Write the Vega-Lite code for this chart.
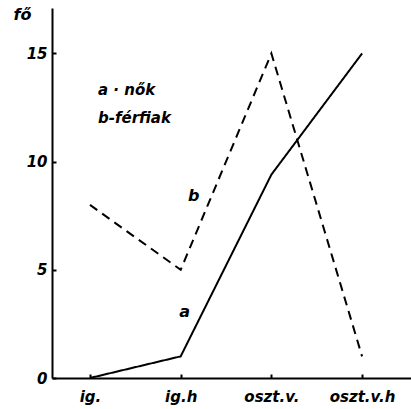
{
  "$schema": "https://vega.github.io/schema/vega-lite/v6.json",
  "width": 359,
  "height": 370,
  "autosize": "none",
  "padding": {"left": 52, "top": 8, "right": 0, "bottom": 31},
  "background": "white",
  "config": {"view": {"stroke": null}, "font": "DejaVu Sans"},
  "datasets": {
    "lines": [
      {"cat": "ig.", "series": "a", "v": 0},
      {"cat": "ig.h", "series": "a", "v": 1},
      {"cat": "oszt.v.", "series": "a", "v": 9.4},
      {"cat": "oszt.v.h", "series": "a", "v": 15},
      {"cat": "ig.", "series": "b", "v": 8},
      {"cat": "ig.h", "series": "b", "v": 5},
      {"cat": "oszt.v.", "series": "b", "v": 15},
      {"cat": "oszt.v.h", "series": "b", "v": 1}
    ],
    "notes": [
      {"cat": "ig.h", "v": 3.05, "label": "a", "kind": "tag_a"},
      {"cat": "ig.h", "v": 8.4, "label": "b", "kind": "tag_b"},
      {"cat": "ig.", "v": 13.3, "label": "a · nők", "kind": "legend"},
      {"cat": "ig.", "v": 12.0, "label": "b-férfiak", "kind": "legend"}
    ]
  },
  "encoding": {
    "x": {
      "field": "cat",
      "type": "ordinal",
      "sort": null,
      "scale": {"type": "point", "domain": ["ig.", "ig.h", "oszt.v.", "oszt.v.h"], "padding": 0.479, "align": 0.437},
      "axis": {
        "title": null,
        "grid": false,
        "domainColor": "black",
        "domainWidth": 2,
        "tickColor": "black",
        "tickWidth": 2,
        "tickSize": -4,
        "labelAngle": 0,
        "labelFont": "DejaVu Sans",
        "labelFontSize": 15,
        "labelFontWeight": "bold",
        "labelFontStyle": "italic",
        "labelColor": "black",
        "labelPadding": 15
      }
    },
    "y": {
      "field": "v",
      "type": "quantitative",
      "scale": {"domain": [0, 17.1], "nice": false},
      "axis": {
        "values": [0, 5, 10, 15],
        "title": "fő",
        "titleAngle": 0,
        "titleX": -30,
        "titleY": 6,
        "titleAlign": "center",
        "titleBaseline": "middle",
        "titleFont": "DejaVu Sans",
        "titleFontSize": 16,
        "titleFontWeight": "bold",
        "titleFontStyle": "italic",
        "titleColor": "black",
        "grid": false,
        "domainColor": "black",
        "domainWidth": 2,
        "tickColor": "black",
        "tickWidth": 2,
        "tickSize": -4,
        "labelFont": "DejaVu Sans",
        "labelFontSize": 15,
        "labelFontWeight": "bold",
        "labelFontStyle": "italic",
        "labelColor": "black",
        "labelPadding": 9
      }
    }
  },
  "layer": [
    {
      "data": {"name": "lines"},
      "mark": {"type": "line", "color": "black", "strokeWidth": 2},
      "encoding": {
        "strokeDash": {
          "field": "series",
          "type": "nominal",
          "scale": {"domain": ["a", "b"], "range": [[1, 0], [9, 6]]},
          "legend": null
        }
      }
    },
    {
      "data": {"name": "notes"},
      "transform": [{"filter": "datum.kind === 'tag_a'"}],
      "mark": {"type": "text", "font": "DejaVu Sans", "fontSize": 16, "fontWeight": "bold", "fontStyle": "italic", "color": "black", "dx": 4, "align": "center", "baseline": "middle"},
      "encoding": {"text": {"field": "label"}}
    },
    {
      "data": {"name": "notes"},
      "transform": [{"filter": "datum.kind === 'tag_b'"}],
      "mark": {"type": "text", "font": "DejaVu Sans", "fontSize": 16, "fontWeight": "bold", "fontStyle": "italic", "color": "black", "dx": 13, "align": "center", "baseline": "middle"},
      "encoding": {"text": {"field": "label"}}
    },
    {
      "data": {"name": "notes"},
      "transform": [{"filter": "datum.kind === 'legend'"}],
      "mark": {"type": "text", "font": "DejaVu Sans", "fontSize": 15, "fontWeight": "bold", "fontStyle": "italic", "color": "black", "dx": 8, "align": "left", "baseline": "middle"},
      "encoding": {"text": {"field": "label"}}
    }
  ]
}
